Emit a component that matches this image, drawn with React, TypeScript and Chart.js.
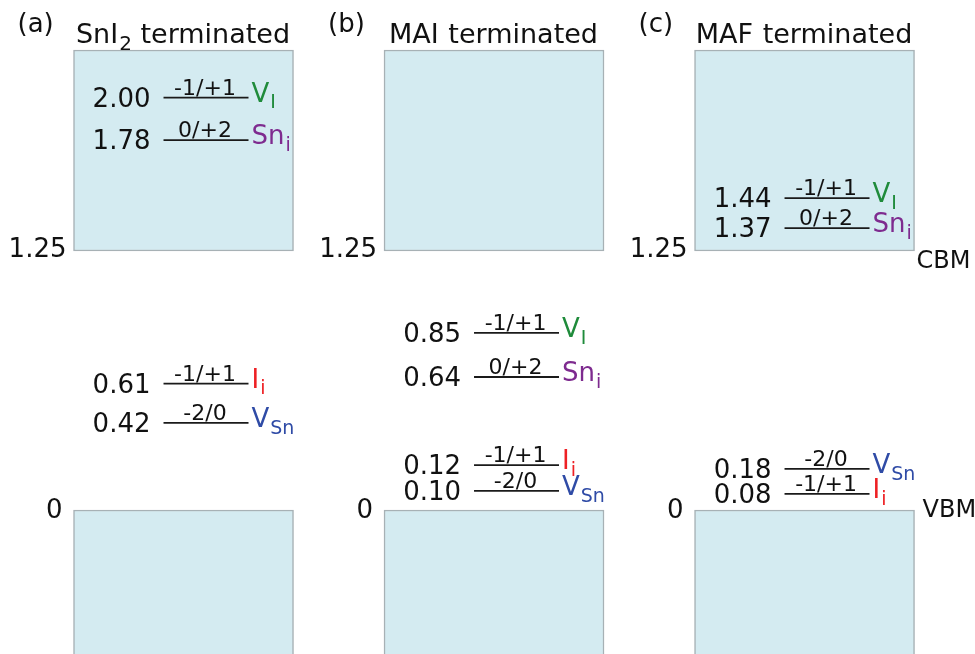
import React, { useEffect, useRef } from "react";
import { Chart, registerables } from "chart.js";

Chart.register(...registerables);

// ---------- data ----------
const panelLetters = ["(a)", "(b)", "(c)"];
const titleMain = ["SnI", "MAI", "MAF"];
const titleSub = ["2", "", ""];
const titleTail = " terminated";
const panelCenters = [0.5, 1.5, 2.5];

const cbmEnergy = 1.25;
const vbmEnergy = 0;
const cbmTickLabels = ["1.25", "1.25", "1.25"];
const vbmTickLabels = ["0", "0", "0"];
const cbmBoxTop = 2.22;
const vbmBoxBottom = -1.0;

// transition levels (eV above VBM), as labelled
const levelsA = [2.0, 1.78, 0.61, 0.42];
const levelsB = [0.85, 0.64, 0.12, 0.1];
const levelsC = [1.44, 1.37, 0.18, 0.08];
// heights at which the figure draws them (close levels nudged apart)
const drawnA = [1.99, 1.785, 0.61, 0.42];
const drawnB = [0.855, 0.642, 0.217, 0.092];
const drawnC = [1.505, 1.36, 0.198, 0.078];

const chargesA = ["-1/+1", "0/+2", "-1/+1", "-2/0"];
const chargesB = ["-1/+1", "0/+2", "-1/+1", "-2/0"];
const chargesC = ["-1/+1", "0/+2", "-2/0", "-1/+1"];

const defectsA = ["VI", "Sni", "Ii", "VSn"];
const defectsB = ["VI", "Sni", "Ii", "VSn"];
const defectsC = ["VI", "Sni", "VSn", "Ii"];

const defectMain: Record<string, string> = { VI: "V", Sni: "Sn", Ii: "I", VSn: "V" };
const defectSub: Record<string, string> = { VI: "I", Sni: "i", Ii: "i", VSn: "Sn" };
const defectColor: Record<string, string> = {
  VI: "#1f8b3b",
  Sni: "#7e2b8f",
  Ii: "#ee2024",
  VSn: "#2f4ba6",
};

const levelValues = [levelsA, levelsB, levelsC];
const levelDrawn = [drawnA, drawnB, drawnC];
const levelCharges = [chargesA, chargesB, chargesC];
const levelDefects = [defectsA, defectsB, defectsC];

// ---------- layout constants ----------
const W = 975;
const H = 654;
const FONT = '"DejaVu Sans", Verdana, sans-serif';
const BOX_PX = 220;
const LINE_START = -0.0644; // relative to panel centre (x units)
const LINE_END = 0.2093;
const TEXT = "#111111";

const labelPlugin = {
  id: "levelLabels",
  afterDatasetsDraw(chart: any) {
    const ctx: CanvasRenderingContext2D = chart.ctx;
    const xs = chart.scales.x;
    const ys = chart.scales.y;
    ctx.save();
    ctx.fillStyle = TEXT;

    const withSub = (
      x: number,
      y: number,
      main: string,
      sub: string,
      tail: string,
      size: number,
      subSize: number,
      color: string,
      measureOnly = false
    ) => {
      ctx.font = `${size}px ${FONT}`;
      const w1 = ctx.measureText(main).width;
      ctx.font = `${subSize}px ${FONT}`;
      const w2 = sub ? ctx.measureText(sub).width : 0;
      ctx.font = `${size}px ${FONT}`;
      const w3 = tail ? ctx.measureText(tail).width : 0;
      if (measureOnly) return w1 + w2 + w3;
      ctx.fillStyle = color;
      ctx.textAlign = "left";
      ctx.textBaseline = "alphabetic";
      ctx.font = `${size}px ${FONT}`;
      ctx.fillText(main, x, y);
      if (sub) {
        ctx.font = `${subSize}px ${FONT}`;
        ctx.fillText(sub, x + w1 + 1, y + size * 0.26);
      }
      if (tail) {
        ctx.font = `${size}px ${FONT}`;
        ctx.fillText(tail, x + w1 + w2 + 1, y);
      }
      return w1 + w2 + w3;
    };

    panelCenters.forEach((c, p) => {
      const mid = xs.getPixelForValue(c);
      const left = mid - BOX_PX / 2;
      const right = mid + BOX_PX / 2;

      // panel letter
      ctx.font = `26px ${FONT}`;
      ctx.fillStyle = TEXT;
      ctx.textAlign = "left";
      ctx.textBaseline = "alphabetic";
      ctx.fillText(panelLetters[p], left - 56, 32);

      // title
      const tw = withSub(0, 0, titleMain[p], titleSub[p], titleTail, 27, 20, TEXT, true) as number;
      withSub(mid - tw / 2 - 1, 43, titleMain[p], titleSub[p], titleTail, 27, 20, TEXT);

      // tick labels
      ctx.fillStyle = TEXT;
      ctx.font = `26px ${FONT}`;
      ctx.textAlign = "right";
      ctx.textBaseline = "middle";
      ctx.fillText(cbmTickLabels[p], left - 7, ys.getPixelForValue(cbmEnergy) - 1);
      ctx.fillText(vbmTickLabels[p], left - 11, ys.getPixelForValue(vbmEnergy) + 1);

      if (p === panelCenters.length - 1) {
        ctx.textAlign = "left";
        ctx.font = `24px ${FONT}`;
        ctx.textBaseline = "top";
        ctx.fillText("CBM", right + 2, ys.getPixelForValue(cbmEnergy) - 1);
        ctx.textBaseline = "middle";
        ctx.fillText("VBM", right + 8, ys.getPixelForValue(vbmEnergy) + 1);
      }

      // levels
      const x0 = xs.getPixelForValue(c + LINE_START);
      const x1 = xs.getPixelForValue(c + LINE_END);
      levelValues[p].forEach((v, i) => {
        const y = ys.getPixelForValue(levelDrawn[p][i]);
        ctx.fillStyle = TEXT;
        ctx.font = `26px ${FONT}`;
        ctx.textAlign = "right";
        ctx.textBaseline = "alphabetic";
        ctx.fillText(v.toFixed(2), x0 - 13, y + 9);

        ctx.font = `22px ${FONT}`;
        ctx.textAlign = "center";
        ctx.fillText(levelCharges[p][i], (x0 + x1) / 2 - 1, y - 3);

        const d = levelDefects[p][i];
        withSub(x1 + 3, y + 4, defectMain[d], defectSub[d], "", 26, 19, defectColor[d]);
      });
    });
    ctx.restore();
  },
};

export default function App() {
  const ref = useRef<HTMLCanvasElement | null>(null);

  useEffect(() => {
    if (!ref.current) return;
    const lineDatasets: any[] = [];
    panelCenters.forEach((c, p) => {
      levelDrawn[p].forEach((e, i) => {
        lineDatasets.push({
          type: "line",
          label: `${panelLetters[p]} ${levelDefects[p][i]} ${levelValues[p][i]}`,
          data: [
            { x: c + LINE_START, y: e },
            { x: c + LINE_END, y: e },
          ],
          borderColor: "#1a1a1a",
          borderWidth: 1.8,
          pointRadius: 0,
          fill: false,
          order: 1,
        });
      });
    });

    const chart = new Chart(ref.current, {
      type: "bar",
      data: {
        datasets: [
          ...lineDatasets,
          {
            type: "bar",
            label: "CBM",
            data: panelCenters.map((c) => ({ x: c, y: [cbmEnergy, cbmBoxTop] })),
            backgroundColor: "#d4ebf1",
            borderColor: "#a7b1b5",
            borderWidth: 1.5,
            borderSkipped: false,
            barThickness: BOX_PX,
            grouped: false,
            order: 2,
          } as any,
          {
            type: "bar",
            label: "VBM",
            data: panelCenters.map((c) => ({ x: c, y: [vbmBoxBottom, vbmEnergy] })),
            backgroundColor: "#d4ebf1",
            borderColor: "#a7b1b5",
            borderWidth: 1.5,
            borderSkipped: false,
            barThickness: BOX_PX,
            grouped: false,
            order: 2,
          } as any,
        ],
      },
      options: {
        responsive: false,
        animation: false,
        events: [],
        layout: { padding: 0 },
        plugins: { legend: { display: false }, tooltip: { enabled: false } },
        scales: {
          x: { type: "linear", min: -0.091, max: 3.049, offset: false, display: false },
          y: { type: "linear", min: -0.695, max: 2.4614, display: false },
        },
      },
      plugins: [labelPlugin],
    });
    return () => chart.destroy();
  }, []);

  return (
    <div style={{ position: "fixed", left: 0, top: 0, width: W, height: H, background: "#fff" }}>
      <canvas ref={ref} width={W} height={H} style={{ display: "block", width: W, height: H }} />
    </div>
  );
}
